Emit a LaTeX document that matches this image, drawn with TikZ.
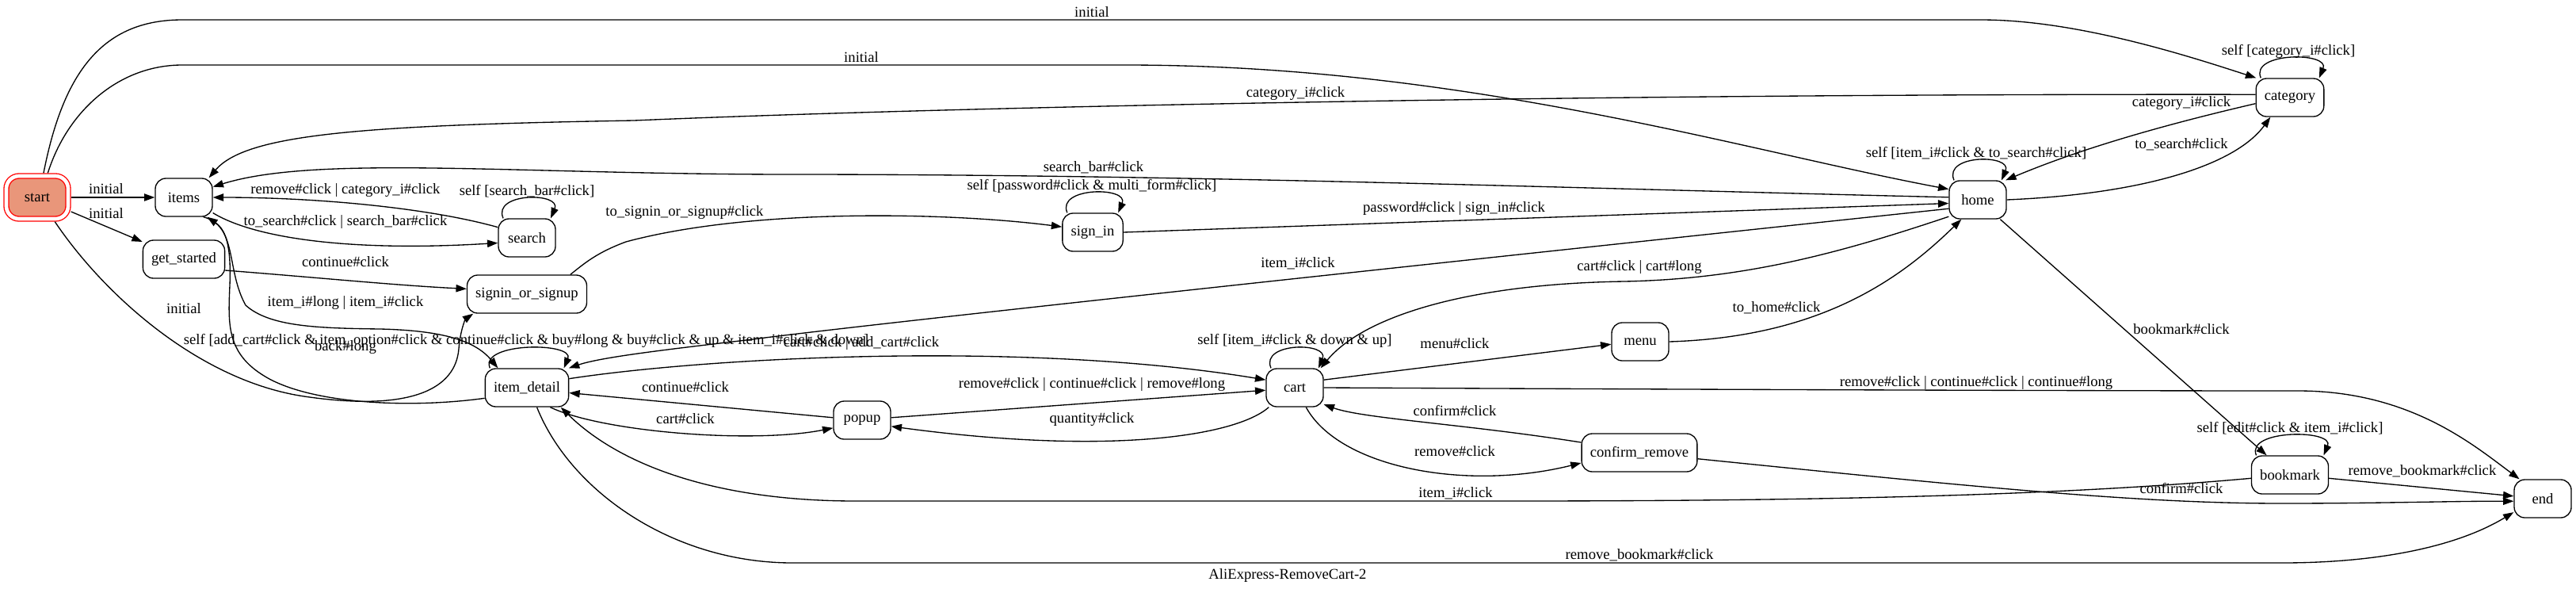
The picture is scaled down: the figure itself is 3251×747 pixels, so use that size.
\documentclass[tikz,border=0pt]{standalone}
\usepackage{fontspec}
\setmainfont{Liberation Serif}
\usetikzlibrary{arrows.meta}
\definecolor{salmonfill}{HTML}{E9967A}
\begin{document}
\begin{tikzpicture}[x=0.75pt,y=-0.75pt,
  every node/.style={font=\fontsize{14}{16}\selectfont},
  st/.style={draw, line width=1pt, rounded corners=10pt, minimum width=54pt, minimum height=36pt, inner xsep=8pt, inner ysep=2pt},
  lbl/.style={inner sep=0pt},
  trans/.style={draw, line width=1pt, -{Triangle[length=10pt,width=7pt]}},
  selfloop/.style={trans}]
\useasboundingbox (0,0) rectangle (3251,747);

% ---------- states ----------
\node[st, draw=red, fill=salmonfill, double=white, double distance=3.5pt, minimum width=58.5pt, minimum height=40.5pt, rounded corners=12pt, outer sep=2.75pt] (start) at (47,249) {start};
\node[st] (items) at (232,249) {items};
\node[st] (get_started) at (232,327) {get\_started};
\node[st] (search) at (665,300) {search};
\node[st] (sos) at (665,371) {signin\_or\_signup};
\node[st] (idet) at (665,489) {item\_detail};
\node[st] (signin) at (1379,293) {sign\_in};
\node[st] (popup) at (1088,530) {popup};
\node[st] (cart) at (1634,489) {cart};
\node[st] (menu) at (2070,431) {menu};
\node[st] (cr) at (2069,571) {confirm\_remove};
\node[st] (home) at (2496,252) {home};
\node[st] (category) at (2890,123) {category};
\node[st] (bookmark) at (2890,599) {bookmark};
\node[st] (endst) at (3209,629) {end};

% ---------- transitions ----------
\draw[trans] (start.east) -- (items.west);
\draw[trans] (start) -- (get_started);
\draw[trans] ([xshift=6pt]start.north) .. controls (80,90) and (130,25) .. (230,25) -- (2500,25) .. controls (2620,25) and (2760,70) .. (category.150);
\draw[trans] ([xshift=10pt]start.north) .. controls (85,140) and (150,82) .. (230,82) -- (1420,82) .. controls (1850,82) and (2200,190) .. (home.160);
\draw[trans] (start.-54) .. controls (130,370) and (250,480) .. (384,500) .. controls (520,520) and (575,490) .. (579,440) .. controls (581,415) and (588,402) .. (sos.200);

\draw[trans] (items.-28) .. controls (320,300) and (440,318) .. (search.190);
\draw[trans] (search.160) .. controls (540,262) and (400,249) .. (items.east);
\draw[selfloop] ([xshift=5pt]search.north west) .. controls +(-14,-33) and +(14,-33) .. ([xshift=-5pt]search.north east);

\draw[trans] (get_started.-15) .. controls (400,350) and (500,360) .. (sos.175);
\draw[trans] ([xshift=-16pt]sos.north east) .. controls (740,330) and (755,318) .. (790,305) .. controls (950,262) and (1200,268) .. (signin.170);
\draw[selfloop] ([xshift=5pt]signin.north west) .. controls +(-14,-33) and +(14,-33) .. ([xshift=-5pt]signin.north east);
\draw[trans] (signin.east) -- (home.187);

\draw[trans] (home.175) .. controls (2000,238) and (1500,220) .. (1000,220) .. controls (650,220) and (400,195) .. (items.20);
\draw[trans] (home.197) .. controls (2000,312) and (1100,408) .. (950,428) .. controls (850,440) and (760,450) .. (idet.25);
\draw[trans] (home.-150) .. controls (2320,320) and (2200,352) .. (2050,355) .. controls (1850,358) and (1720,400) .. ([xshift=-3pt]cart.north east);
\draw[trans] (menu.east) .. controls (2300,425) and (2400,350) .. (home.-130);
\draw[trans] (home.east) .. controls (2700,245) and (2820,210) .. (category.-135);
\draw[trans] (category.190) .. controls (2720,160) and (2620,190) .. (home.35);
\draw[trans] (category.175) .. controls (2000,118) and (1200,135) .. (800,152) .. controls (450,158) and (310,170) .. (items.38);
\draw[selfloop] ([xshift=5pt]home.north west) .. controls +(-14,-33) and +(14,-33) .. ([xshift=-5pt]home.north east);
\draw[selfloop] ([xshift=5pt]category.north west) .. controls +(-14,-33) and +(14,-33) .. ([xshift=-5pt]category.north east);
\draw[trans] (home.-41) -- (bookmark.140);

\draw[selfloop] ([xshift=5pt]bookmark.north west) .. controls +(-14,-33) and +(14,-33) .. ([xshift=-5pt]bookmark.north east);
\draw[trans] (bookmark.-5) -- (endst.175);
\draw[trans] (bookmark.185) .. controls (2600,625) and (2300,632) .. (1900,632) -- (1080,632) .. controls (900,632) and (780,585) .. (idet.-30);
\draw[trans] (idet.-63) .. controls (720,620) and (850,710) .. (1000,710) -- (2880,710) .. controls (3000,710) and (3100,690) .. (endst.205);
\draw[trans] (cr.-6) .. controls (2500,615) and (2700,635) .. (2880,635) .. controls (3000,635) and (3100,632) .. (endst.185);
\draw[trans] (cr.170) .. controls (1850,535) and (1720,528) .. (cart.-30);
\draw[trans] (cart.-60) .. controls (1690,590) and (1850,620) .. (cr.190);
\draw[trans] (cart.east) .. controls (2300,492) and (2700,493) .. (2900,493) .. controls (3040,493) and (3120,560) .. (endst.140);
\draw[trans] (cart.15) -- (menu.185);
\draw[selfloop] ([xshift=5pt]cart.north west) .. controls +(-14,-33) and +(14,-33) .. ([xshift=-5pt]cart.north east);
\draw[trans] (popup.5) -- (cart.185);
\draw[trans] (cart.-143) .. controls (1560,550) and (1400,575) .. (popup.-12);
\draw[trans] (popup.175) -- (idet.-7);
\draw[trans] (idet.-40) .. controls (760,545) and (950,560) .. (popup.-165);
\draw[trans] (idet.12) .. controls (900,450) and (1300,430) .. (cart.165);
\draw[selfloop] ([xshift=5pt]idet.north west) .. controls +(-14,-33) and +(14,-33) .. ([xshift=-5pt]idet.north east);
\draw[trans] (items.-45) .. controls (300,285) and (285,340) .. (310,385) .. controls (340,412) and (400,414) .. (480,415) .. controls (560,417) and (600,430) .. (idet.146);
\draw[trans] (idet.194) .. controls (520,515) and (400,510) .. (340,478) .. controls (285,448) and (288,410) .. (290,360) .. controls (292,310) and (285,290) .. (items.-40);

% ---------- labels ----------
\node[lbl] (l01) at (134,238) {initial};
\node[lbl] (l02) at (134,269) {initial};
\node[lbl] (l03) at (1378,15) {initial};
\node[lbl] (l04) at (1087,72) {initial};
\node[lbl] (l05) at (232,389) {initial};
\node[lbl] (l06) at (1635,118) {category\_i\#click};
\node[lbl] (l07) at (1380,211) {search\_bar\#click};
\node[lbl] (l08) at (1378,235) {self [password\#click \& multi\_form\#click]};
\node[lbl] (l09) at (864,268) {to\_signin\_or\_signup\#click};
\node[lbl] (l10) at (436,240) {remove\#click | category\_i\#click};
\node[lbl] (l11) at (665,241) {self [search\_bar\#click]};
\node[lbl] (l12) at (436,280) {to\_search\#click | search\_bar\#click};
\node[lbl] (l13) at (436,330) {continue\#click};
\node[lbl] (l14) at (436,382) {item\_i\#long | item\_i\#click};
\node[lbl] (l15) at (436,438) {back\#long};
\node[lbl] (l16) at (664,430) {self [add\_cart\#click \& item\_option\#click \& continue\#click \& buy\#long \& buy\#click \& up \& item\_i\#click \& down]};
\node[lbl] (l17) at (1087,433) {cart\#click | add\_cart\#click};
\node[lbl] (l18) at (865,488) {continue\#click};
\node[lbl] (l19) at (865,528) {cart\#click};
\node[lbl] (l20) at (1378,485) {remove\#click | continue\#click | remove\#long};
\node[lbl] (l21) at (1378,529) {quantity\#click};
\node[lbl] (l22) at (1835,263) {password\#click | sign\_in\#click};
\node[lbl] (l23) at (1638,332) {item\_i\#click};
\node[lbl] (l24) at (2069,337) {cart\#click | cart\#long};
\node[lbl] (l25) at (2242,388) {to\_home\#click};
\node[lbl] (l26) at (1634,430) {self [item\_i\#click \& down \& up]};
\node[lbl] (l27) at (1836,433) {menu\#click};
\node[lbl] (l28) at (1836,518) {confirm\#click};
\node[lbl] (l29) at (1836,569) {remove\#click};
\node[lbl] (l30) at (1837,622) {item\_i\#click};
\node[lbl] (l31) at (2069,700) {remove\_bookmark\#click};
\node[lbl] (l32) at (2494,483) {remove\#click | continue\#click | continue\#long};
\node[lbl] (l33) at (2494,193) {self [item\_i\#click \& to\_search\#click]};
\node[lbl] (l34) at (2753,130) {category\_i\#click};
\node[lbl] (l35) at (2753,182) {to\_search\#click};
\node[lbl] (l36) at (2888,65) {self [category\_i\#click]};
\node[lbl] (l37) at (2753,415) {bookmark\#click};
\node[lbl] (l38) at (2890,540) {self [edit\#click \& item\_i\#click]};
\node[lbl] (l39) at (3057,594) {remove\_bookmark\#click};
\node[lbl] (l40) at (2753,616) {confirm\#click};
\node[lbl] (title) at (1625,726) {AliExpress-RemoveCart-2};
\end{tikzpicture}
\end{document}
